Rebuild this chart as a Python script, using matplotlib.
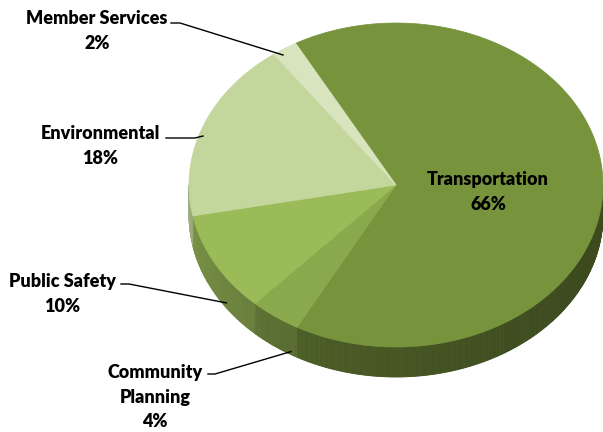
import numpy as np
import matplotlib.pyplot as plt
from matplotlib.patches import Polygon
import matplotlib.colors as mcolors

# slices, clockwise starting from the top
categories = ['Transportation', 'Community\nPlanning', 'Public Safety', 'Environmental', 'Member Services']
values = [66, 4, 10, 18, 2]
top_colors = ['#77933c', '#8aa84c', '#9bbb59', '#c3d69b', '#d7e4bd']

# tilted pie geometry (pixels, y down)
cx, cy = 396, 185
rx, ry = 207, 162
depth = 30
start = -119

fig = plt.figure(figsize=(6.03, 4.32), dpi=100)
ax = fig.add_axes([0, 0, 1, 1])
ax.set_xlim(0, 603)
ax.set_ylim(432, 0)
ax.axis('off')

fracs = np.array(values) / sum(values)
edges = start + 360 * np.concatenate([[0], np.cumsum(fracs)])


def pt(t, dz=0):
    r = np.radians(t)
    return cx + rx * np.cos(r), cy + ry * np.sin(r) + dz


# side wall, only the front half is visible
for i in range(len(values)):
    t0, t1 = edges[i], edges[i + 1]
    ts = np.linspace(t0, t1, int(abs(t1 - t0)) * 2 + 2)
    base = np.array(mcolors.to_rgb(top_colors[i]))
    for a, b in zip(ts[:-1], ts[1:]):
        m = ((a + b) / 2) % 360
        if m > 180:
            continue
        f = 0.5 + 0.32 * (m / 180) ** 2
        col = np.clip(base * f, 0, 1)
        pa, pb = pt(a), pt(b)
        qa, qb = pt(a, depth), pt(b, depth)
        ax.add_patch(Polygon([pa, pb, qb, qa], closed=True, facecolor=col,
                             edgecolor=col, linewidth=0.6))

# top faces
for i in range(len(values)):
    ts = np.linspace(edges[i], edges[i + 1], 200)
    pts = [(cx, cy)] + [pt(t) for t in ts]
    ax.add_patch(Polygon(pts, closed=True, facecolor=top_colors[i],
                         edgecolor=top_colors[i], linewidth=0.5))

font = dict(family='Lato', fontweight='heavy', fontsize=13, color='black',
            ha='center', va='center', linespacing=1.55)

# labels
ax.text(488, 192, f'{categories[0]}\n{values[0]}%', **font)
ax.text(155, 397, f'{categories[1]}\n{values[1]}%', **font)
ax.text(62, 294, f'{categories[2]}\n{values[2]}%', **font)
ax.text(100, 146, f'{categories[3]}\n{values[3]}%', **font)
ax.text(97, 31, f'{categories[4]}\n{values[4]}%', **font)

# leader lines
leaders = [
    ((208, 374), (215, 374), pt(120.5, 27)),
    ((121, 284), (129, 284), pt(145, 25)),
    ((166, 138), (195, 138), (203, 136)),
    ((171, 23), (180, 23), (283, 55)),
]
for p0, p1, p2 in leaders:
    ax.plot([p0[0], p1[0], p2[0]], [p0[1], p1[1], p2[1]], color='black', lw=1)

fig.savefig('out.png', dpi=100)
